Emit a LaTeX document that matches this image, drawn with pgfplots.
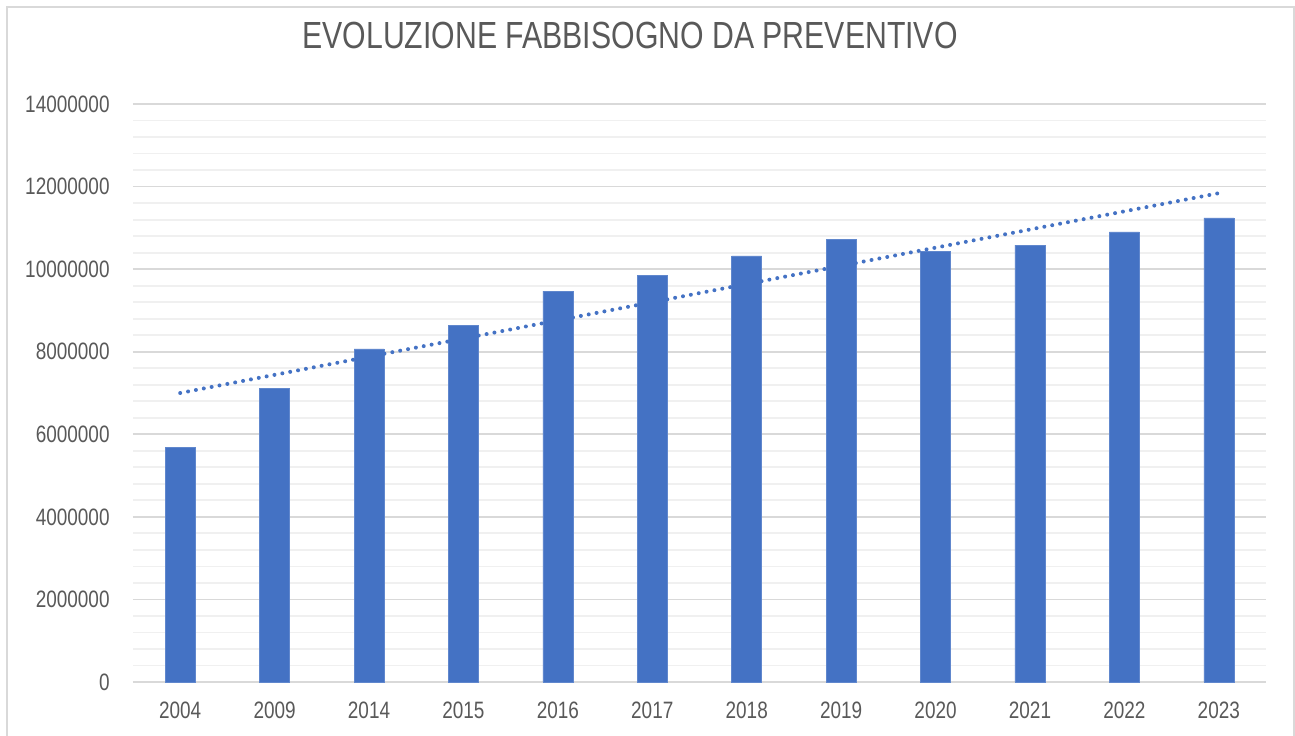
\documentclass[border=0pt]{standalone}
\usepackage{pgfplots}
\pgfplotsset{compat=1.18}
\usepackage{fontspec}
\setmainfont{Liberation Sans}[FakeStretch=0.8]
\definecolor{barblue}{HTML}{4472C4}
\definecolor{txtgrey}{HTML}{595959}
\definecolor{majgrid}{HTML}{D9D9D9}
\definecolor{mingrid}{HTML}{F0F0F0}
\begin{document}
\begin{tikzpicture}[x=1pt,y=1pt]
\path[use as bounding box] (0,0) rectangle (647.5,367.5);
\draw[majgrid, line width=1pt] (3.25,-5) -- (3.25,363.75) -- (647,363.75) -- (647,-5);
\node[txtgrey, font=\fontsize{18.9}{22}\selectfont] at (315,350) {EVOLUZIONE FABBISOGNO DA PREVENTIVO};
\begin{axis}[
  at={(66.5pt,26.5pt)}, anchor=south west,
  scale only axis, width=566.5pt, height=289pt,
  xmin=-0.5, xmax=11.5, ymin=0, ymax=14000000,
  axis line style={draw=none},
  xtick={0,...,11},
  xticklabels={2004,2009,2014,2015,2016,2017,2018,2019,2020,2021,2022,2023},
  ytick={0,2000000,4000000,6000000,8000000,10000000,12000000,14000000},
  yticklabels={0,2000000,4000000,6000000,8000000,10000000,12000000,14000000},
  scaled y ticks=false,
  minor y tick num=4,
  major tick length=0pt, minor tick length=0pt,
  tick style={draw=none},
  ymajorgrids, yminorgrids,
  major grid style={majgrid, line width=0.9pt},
  minor grid style={mingrid, line width=0.9pt},
  ticklabel style={txtgrey, font=\fontsize{11.85}{14}\selectfont, inner sep=0pt},
  yticklabel style={anchor=east, xshift=-11.5pt},
  xticklabel style={anchor=north, yshift=-10pt},
  clip=false,
]
\addplot[ybar, bar width=15pt, fill=barblue, draw=barblue!85!white, line width=0.3pt, bar shift=0pt]
  coordinates {(0,5690000) (1,7120000) (2,8070000) (3,8640000) (4,9470000) (5,9840000)
               (6,10320000) (7,10730000) (8,10430000) (9,10580000) (10,10900000) (11,11240000)};
\addplot[barblue, line width=2pt, line cap=round, dash pattern=on 0pt off 4pt]
  coordinates {(0,7000000) (11,11840000)};
\end{axis}
\end{tikzpicture}
\end{document}
